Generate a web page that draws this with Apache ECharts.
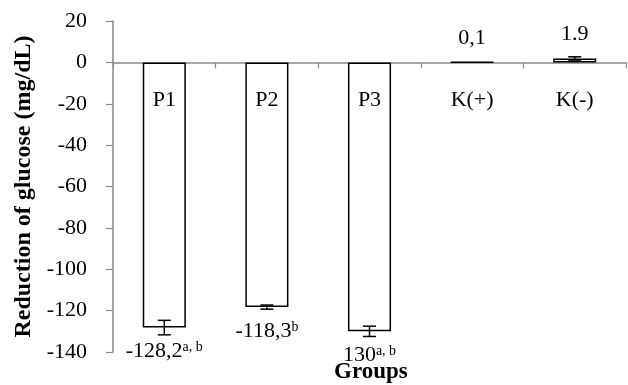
<!DOCTYPE html>
<html>
<head>
<meta charset="utf-8">
<script src="https://cdn.jsdelivr.net/npm/echarts@6/dist/echarts.min.js"></script>
<style>html,body{margin:0;padding:0;background:#fff}#c{width:628px;height:385px}</style>
</head>
<body>
<div id="c"></div>
<script>
var categories = ['P1', 'P2', 'P3', 'K(+)', 'K(-)'];
var values = [-128.2, -118.3, -130, 0.1, 1.9];
var errors = [3.5, 1, 2.5, 0, 0.8];
var labelMain = ['-128,2', '-118,3', '130', '0,1', '1.9'];
var labelSup = ['a, b', 'b', 'a, b', '', ''];
var yMin = -140, yMax = 20, yStep = 20;

var FONT = "'Liberation Serif', 'Times New Roman', serif";
var AXIS_COLOR = '#8a8a8a';

var chart = echarts.init(document.getElementById('c'));
var errData = values.map(function (v, i) { return [i, v, errors[i]]; });

chart.setOption({
  animation: false,
  grid: { left: 113, right: 2, top: 21, bottom: 33, containLabel: false, outerBoundsMode: 'none' },
  title: {
    text: 'Groups', left: 329, top: 356,
    textStyle: { fontFamily: FONT, fontSize: 23, fontWeight: 'bold', color: '#000' }
  },
  xAxis: {
    type: 'category', data: categories,
    axisLine: { onZero: true, lineStyle: { color: AXIS_COLOR, width: 1.5 } },
    axisTick: { show: true, length: 6, lineStyle: { color: AXIS_COLOR, width: 1.2 } },
    axisLabel: { show: false },
    splitLine: { show: false }
  },
  yAxis: {
    type: 'value', min: yMin, max: yMax, interval: yStep,
    name: 'Reduction of glucose (mg/dL)', nameLocation: 'middle', nameGap: 73,
    nameTextStyle: { fontFamily: FONT, fontSize: 24, fontWeight: 'bold', color: '#000' },
    axisLine: { show: true, lineStyle: { color: AXIS_COLOR, width: 1.5 } },
    axisTick: { show: true, length: 7, lineStyle: { color: AXIS_COLOR, width: 1.2 } },
    axisLabel: { margin: 26, color: '#000', fontFamily: FONT, fontSize: 22 },
    splitLine: { show: false }
  },
  series: [
    {
      type: 'bar', data: values, barWidth: '42%',
      itemStyle: { color: '#fff', borderColor: '#000', borderWidth: 1.5 }
    },
    {
      type: 'custom', data: errData, z: 10,
      renderItem: function (params, api) {
        var i = api.value(0), v = api.value(1), e = api.value(2);
        var pEnd = api.coord([i, v]);
        var pZero = api.coord([i, 0]);
        var pLo = api.coord([i, v - e]);
        var pHi = api.coord([i, v + e]);
        var cap = 6.5;
        var children = [];
        if (e > 0) {
          children.push(
            { type: 'line', shape: { x1: pLo[0], y1: pLo[1], x2: pHi[0], y2: pHi[1] }, style: { stroke: '#000', lineWidth: 1.5 } },
            { type: 'line', shape: { x1: pLo[0] - cap, y1: pLo[1], x2: pLo[0] + cap, y2: pLo[1] }, style: { stroke: '#000', lineWidth: 1.5 } },
            { type: 'line', shape: { x1: pHi[0] - cap, y1: pHi[1], x2: pHi[0] + cap, y2: pHi[1] }, style: { stroke: '#000', lineWidth: 1.5 } }
          );
        }
        var idx = params.dataIndex;
        var txt = '{m|' + labelMain[idx] + '}' + (labelSup[idx] ? '{s|' + labelSup[idx] + '}' : '');
        var ty = v < 0 ? pEnd[1] + 24 : pEnd[1] - 24;
        children.push({
          type: 'text',
          style: {
            x: pEnd[0], y: ty, text: txt, align: 'center', verticalAlign: 'middle',
            rich: {
              m: { fontFamily: FONT, fontSize: 22, color: '#000', lineHeight: 22 },
              s: { fontFamily: FONT, fontSize: 14, color: '#333', verticalAlign: 'top', lineHeight: 22 }
            }
          }
        });
        children.push({
          type: 'text',
          style: {
            x: pZero[0], y: pZero[1] + 38, text: categories[idx], align: 'center', verticalAlign: 'middle',
            fontFamily: FONT, fontSize: 22, fill: '#000'
          }
        });
        return { type: 'group', children: children };
      }
    }
  ]
});
</script>
</body>
</html>
